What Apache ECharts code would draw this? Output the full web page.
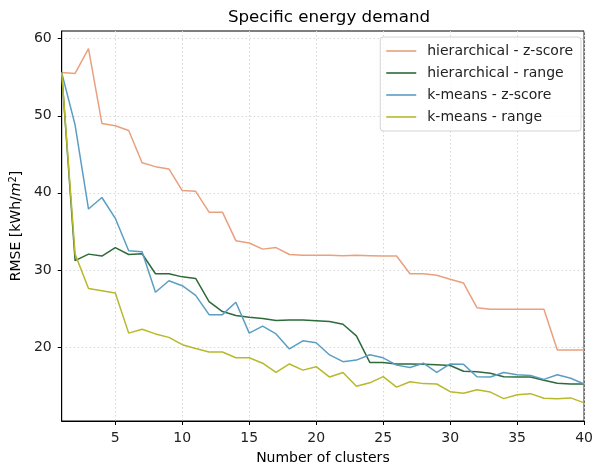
<!DOCTYPE html>
<html>
<head>
<meta charset="utf-8">
<script src="https://cdn.jsdelivr.net/npm/echarts@6/dist/echarts.min.js"></script>
<style>
html,body{margin:0;padding:0;background:#fff;}
#chart{width:596px;height:470px;}
</style>
</head>
<body>
<div id="chart"></div>
<script>
const clusters = [1,2,3,4,5,6,7,8,9,10,11,12,13,14,15,16,17,18,19,20,21,22,23,24,25,26,27,28,29,30,31,32,33,34,35,36,37,38,39,40];
const hierZ = [55.6,55.5,58.7,49.0,48.7,48.1,43.9,43.4,43.1,40.3,40.2,37.5,37.5,33.8,33.5,32.7,32.9,32.0,31.9,31.9,31.9,31.85,31.9,31.85,31.8,31.8,29.5,29.5,29.3,28.8,28.3,25.1,24.9,24.9,24.9,24.9,24.9,19.6,19.6,19.6];
const hierR = [55.6,31.2,32.05,31.8,32.9,32.0,32.1,29.5,29.5,29.1,28.9,25.9,24.6,24.1,23.85,23.7,23.45,23.5,23.5,23.4,23.3,22.95,21.45,18.0,18.0,17.8,17.8,17.75,17.7,17.6,16.85,16.8,16.6,16.15,16.1,16.1,15.7,15.3,15.2,15.2];
const kmZ = [55.6,48.8,37.9,39.4,36.7,32.5,32.35,27.1,28.6,27.95,26.7,24.2,24.2,25.8,21.8,22.7,21.7,19.75,20.8,20.55,18.97,18.1,18.3,19.0,18.6,17.65,17.35,17.9,16.7,17.8,17.75,16.15,16.1,16.7,16.4,16.3,15.8,16.4,15.95,15.2];
const kmR = [55.6,32.05,27.6,27.3,27.0,21.8,22.3,21.7,21.25,20.3,19.8,19.35,19.35,18.6,18.6,17.9,16.7,17.8,17.0,17.45,16.1,16.7,14.9,15.35,16.15,14.8,15.5,15.25,15.2,14.2,14.0,14.45,14.15,13.3,13.8,13.95,13.35,13.3,13.4,12.75];
const seriesNames = ['hierarchical - z-score','hierarchical - range','k-means - z-score','k-means - range'];
const xTicks = [5,10,15,20,25,30,35,40];
const yTicks = [20,30,40,50,60];

const colors = ['#E9A07F','#2E6A3A','#5B9EC4','#B7B92B'];
const font = 'DejaVu Sans';
const allSeries = [hierZ, hierR, kmZ, kmR];

const chart = echarts.init(document.getElementById('chart'), null, {renderer:'canvas'});
chart.setOption({
  animation: false,
  backgroundColor: '#fff',
  textStyle: {fontFamily: font},
  title: {
    text: 'Specific energy demand',
    left: 324, top: 4, textAlign: 'center',
    textStyle: {fontFamily: font, fontSize: 16.7, fontWeight: 'normal', color: '#000'}
  },
  legend: {
    orient: 'vertical',
    right: 15, top: 37,
    padding: [6, 8, 6, 6],
    icon: 'rect',
    itemWidth: 30, itemHeight: 1.6, itemGap: 6,
    backgroundColor: 'rgba(255,255,255,0.8)',
    borderColor: '#d4d4d4', borderWidth: 1, borderRadius: 3,
    textStyle: {fontFamily: font, fontSize: 14, color: '#222', lineHeight: 16, padding: [0,0,0,6]},
    data: seriesNames
  },
  grid: {
    left: 60, right: 8, top: 31, bottom: 45,
    show: true, borderColor: '#000', borderWidth: 1, backgroundColor: 'transparent'
  },
  xAxis: {
    type: 'value', min: 1, max: 40, splitNumber: 8,
    name: 'Number of clusters', nameLocation: 'middle', nameGap: 30,
    nameTextStyle: {fontFamily: font, fontSize: 14, color: '#000'},
    axisLine: {show: true, lineStyle: {color: '#000', width: 1}},
    axisTick: {show: true, length: 4, inside: false, customValues: xTicks, lineStyle: {color: '#000'}},
    axisLabel: {customValues: xTicks, fontFamily: font, fontSize: 14, color: '#222', margin: 10},
    splitLine: {show: true, lineStyle: {type: [1.5, 2.5], color: '#d6d6d6', width: 1}}
  },
  yAxis: {
    type: 'value', min: 10.4, max: 61, splitNumber: 5,
    name: 'RMSE [kWh/{i|m}{s|2}]', nameLocation: 'middle', nameGap: 36, nameRotate: 90,
    nameTextStyle: {fontFamily: font, fontSize: 14, color: '#000',
      rich: {i: {fontStyle: 'italic', fontSize: 14, fontFamily: font}, s: {fontSize: 10, verticalAlign: 'top', padding:[0,0,6,0], fontFamily: font}}},
    axisLine: {show: true, lineStyle: {color: '#000', width: 1}},
    axisTick: {show: true, length: 4, inside: false, customValues: yTicks, lineStyle: {color: '#000'}},
    axisLabel: {customValues: yTicks, fontFamily: font, fontSize: 14, color: '#222', margin: 10},
    splitLine: {show: true, lineStyle: {type: [1.5, 2.5], color: '#d6d6d6', width: 1}}
  },
  series: allSeries.map((arr, i) => ({
    name: seriesNames[i],
    type: 'line',
    symbol: 'none',
    data: clusters.map((c, j) => [c, arr[j]]),
    lineStyle: {color: colors[i], width: 1.5},
    itemStyle: {color: colors[i]},
    z: 2 + i
  }))
});
</script>
</body>
</html>
